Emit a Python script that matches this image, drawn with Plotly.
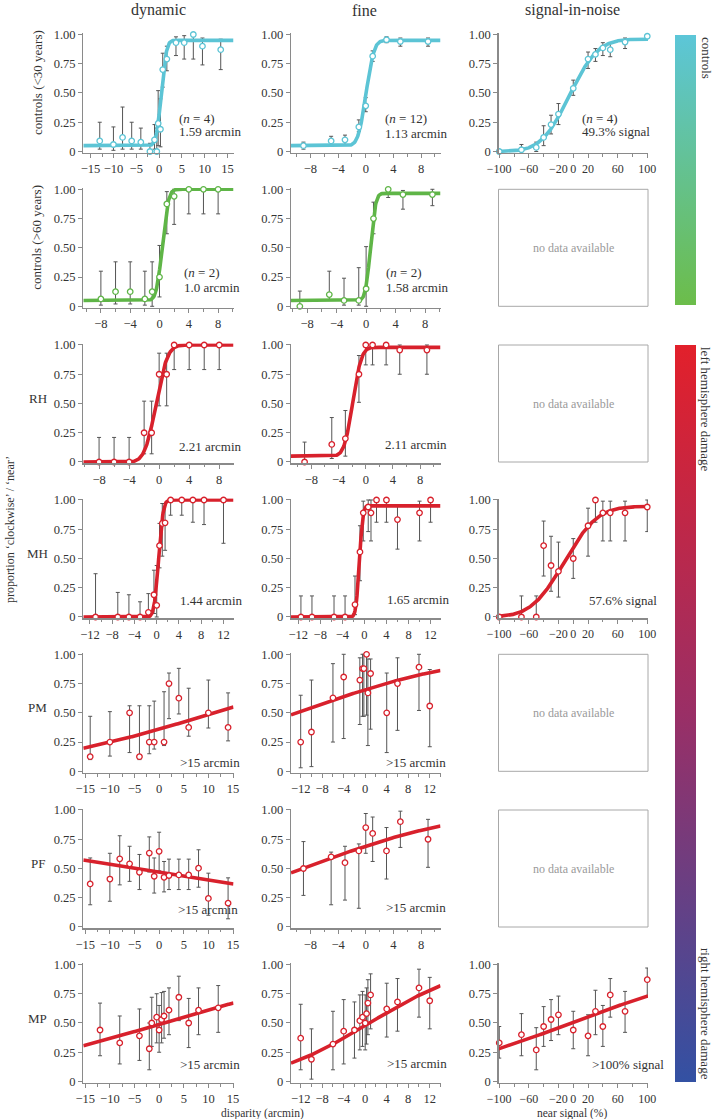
import math
import numpy as np
import plotly.graph_objects as go

W, H = 718, 1119

# ---------------- data ----------------
# each panel: x, y (proportion), lower / upper error limits, fit = (guess, lapse, mu, sigma)
c30_dyn_x = [-13, -10, -8, -6, -4, -2, -1, -0.5, -0.2, 0.3, 0.8, 1.7, 3.7, 5.5, 7.5, 9.5, 13.5]
c30_dyn_y = [0.09, 0.06, 0.12, 0.09, 0.08, 0.0, 0.10, 0.0, 0.24, 0.19, 0.70, 0.79, 0.93, 0.93, 1.0, 0.90, 0.87]
c30_dyn_lo = [0.02, 0.01, 0.02, 0.02, 0.02, 0.0, 0.02, 0.0, 0.05, 0.04, 0.55, 0.69, 0.82, 0.79, 0.79, 0.74, 0.70]
c30_dyn_hi = [0.25, 0.21, 0.38, 0.25, 0.20, 0.07, 0.23, 0.20, 0.52, 0.45, 0.84, 0.90, 0.98, 0.99, 1.0, 0.97, 0.96]
c30_dyn_fit = (0.05, 0.05, 0.5, 0.9)

c30_fine_x = [-9, -5, -3, -1, 0, 1, 3, 5, 9]
c30_fine_y = [0.05, 0.09, 0.10, 0.21, 0.39, 0.815, 0.955, 0.94, 0.94]
c30_fine_lo = [0.02, 0.06, 0.06, 0.17, 0.34, 0.77, 0.93, 0.90, 0.90]
c30_fine_hi = [0.08, 0.13, 0.14, 0.27, 0.46, 0.86, 0.98, 0.97, 0.97]
c30_fine_fit = (0.05, 0.05, 0.05, 0.9)

c30_sin_x = [-100, -70, -50, -40, -30, -20, 0, 20, 30, 40, 50, 70, 100]
c30_sin_y = [0.0, 0.015, 0.035, 0.12, 0.23, 0.32, 0.54, 0.79, 0.83, 0.885, 0.87, 0.935, 0.985]
c30_sin_lo = [0.0, 0.0, 0.0, 0.05, 0.15, 0.23, 0.48, 0.71, 0.77, 0.82, 0.81, 0.88, 0.97]
c30_sin_hi = [0.0, 0.06, 0.08, 0.22, 0.31, 0.41, 0.61, 0.85, 0.88, 0.93, 0.93, 0.97, 1.0]
c30_sin_fit = (0.0, 0.04, -5, 30)

c60_dyn_x = [-8, -6, -4, -2, -1, 0, 1, 2, 4, 6, 8]
c60_dyn_y = [0.063, 0.125, 0.125, 0.063, 0.125, 0.25, 0.875, 0.94, 1.0, 1.0, 1.0]
c60_dyn_lo = [0.01, 0.02, 0.02, 0.01, 0.0, 0.08, 0.62, 0.70, 0.79, 0.79, 0.79]
c60_dyn_hi = [0.30, 0.38, 0.38, 0.30, 0.38, 0.52, 0.98, 1.0, 1.0, 1.0, 1.0]
c60_dyn_fit = (0.05, 0.0, 0.4, 0.65)

c60_fine_x = [-9, -5, -3, -1, 0, 1, 3, 5, 9]
c60_fine_y = [0.0, 0.10, 0.05, 0.05, 0.15, 0.75, 1.0, 0.955, 0.955]
c60_fine_lo = [0.0, 0.05, 0.01, 0.01, 0.0, 0.62, 0.93, 0.83, 0.86]
c60_fine_hi = [0.13, 0.30, 0.24, 0.33, 0.51, 0.89, 1.0, 0.99, 1.0]
c60_fine_fit = (0.05, 0.035, 0.6, 0.55)

rh_dyn_x = [-8, -6, -4, -2, -1, 0, 1, 2, 4, 6, 8]
rh_dyn_y = [0, 0, 0, 0.25, 0.25, 0.75, 0.75, 1, 1, 1, 1]
rh_dyn_lo = [0, 0, 0, 0.07, 0.07, 0.48, 0.48, 0.79, 0.79, 0.79, 0.79]
rh_dyn_hi = [0.21, 0.21, 0.21, 0.52, 0.52, 0.93, 0.93, 1, 1, 1, 1]
rh_dyn_fit = (0.0, 0.0, -0.4, 1.2)

rh_fine_x = [-9, -5, -3, -1, 0, 1, 3, 5, 9]
rh_fine_y = [0.0, 0.15, 0.20, 0.75, 1.0, 1.0, 1.0, 0.957, 0.957]
rh_fine_lo = [0.0, 0.03, 0.05, 0.51, 0.83, 0.83, 0.83, 0.75, 0.75]
rh_fine_hi = [0.17, 0.38, 0.44, 0.91, 1.0, 1.0, 1.0, 1.0, 1.0]
rh_fine_fit = (0.05, 0.02, -1.9, 1.0)

mh_dyn_x = [-11, -7, -5, -3, -1.5, -0.5, 0, 0.5, 1, 1.5, 2.5, 4.5, 6.5, 8.5, 12]
mh_dyn_y = [0, 0, 0, 0, 0.04, 0.19, 0.10, 0.61, 0.80, 0.805, 1, 1, 1, 1, 1]
mh_dyn_lo = [0, 0, 0, 0, 0, 0.03, 0.0, 0.42, 0.52, 0.57, 0.87, 0.87, 0.81, 0.79, 0.63]
mh_dyn_hi = [0.37, 0.21, 0.19, 0.13, 0.20, 0.40, 0.44, 0.80, 0.97, 0.97, 1, 1, 1, 1, 1]
mh_dyn_fit = (0.0, 0.0, 0.35, 0.65)

mh_fine_x = [-11.5, -9.5, -5.5, -3.5, -1.7, -0.8, -0.2, 0.7, 1.2, 2.2, 4, 6, 10, 12]
mh_fine_y = [0, 0, 0, 0, 0.106, 0.556, 0.89, 0.94, 0.89, 1, 1, 0.833, 0.89, 1]
mh_fine_lo = [0, 0, 0, 0, 0.02, 0.31, 0.65, 0.73, 0.65, 0.81, 0.81, 0.58, 0.65, 0.81]
mh_fine_hi = [0.18, 0.18, 0.18, 0.18, 0.35, 0.78, 0.99, 1.0, 1.0, 1, 1, 0.96, 0.99, 1]
mh_fine_fit = (0.0, 0.05, -0.9, 0.5)

mh_sin_x = [-100, -70, -50, -40, -30, -20, 0, 20, 30, 40, 50, 70, 100]
mh_sin_y = [0, 0, 0, 0.61, 0.44, 0.39, 0.50, 0.78, 1.0, 0.89, 0.89, 0.89, 0.94]
mh_sin_lo = [0, 0, 0, 0.35, 0.22, 0.17, 0.33, 0.52, 0.81, 0.65, 0.65, 0.65, 0.73]
mh_sin_hi = [0, 0.18, 0.18, 0.82, 0.69, 0.64, 0.67, 0.93, 1.0, 0.99, 0.99, 0.99, 1.0]
mh_sin_fit = (0.0, 0.055, -12, 35)

pm_dyn_x = [-14, -10, -6, -4, -2, -1, 1, 2, 4, 6, 10, 14]
pm_dyn_y = [0.125, 0.25, 0.5, 0.125, 0.25, 0.25, 0.25, 0.75, 0.625, 0.375, 0.5, 0.375]
pm_dyn_lo = [0.10, 0.13, 0.16, 0.10, 0.15, 0.19, 0.22, 0.45, 0.49, 0.30, 0.37, 0.26]
pm_dyn_hi = [0.47, 0.51, 0.56, 0.56, 0.56, 0.60, 0.68, 0.84, 0.88, 0.71, 0.78, 0.67]
pm_dyn_fit = (0.0, 0.0, 11.2, 31.2)

pm_fine_x = [-12, -10, -6, -4, -1, -0.5, -0.25, 0.25, 0.5, 1, 4, 6, 10, 12]
pm_fine_y = [0.25, 0.336, 0.628, 0.806, 0.78, 0.878, 0.878, 1.0, 0.67, 0.836, 0.5, 0.75, 0.89, 0.558]
pm_fine_lo = [0.03, 0.04, 0.25, 0.28, 0.40, 0.47, 0.47, 0.48, 0.22, 0.36, 0.16, 0.35, 0.52, 0.21]
pm_fine_hi = [0.65, 0.78, 0.92, 1.0, 0.97, 1.0, 1.0, 1.0, 0.96, 0.96, 0.84, 0.97, 1.0, 0.87]
pm_fine_fit = (0.0, 0.0, -12.7, 24.5)

pf_dyn_x = [-14, -10, -8, -6, -4, -2, -1, 0, 1, 2, 4, 6, 8, 10, 14]
pf_dyn_y = [0.368, 0.41, 0.583, 0.54, 0.468, 0.632, 0.434, 0.647, 0.425, 0.44, 0.445, 0.445, 0.503, 0.244, 0.204]
pf_dyn_lo = [0.19, 0.22, 0.36, 0.39, 0.32, 0.47, 0.29, 0.48, 0.30, 0.32, 0.32, 0.32, 0.34, 0.10, 0.07]
pf_dyn_hi = [0.59, 0.63, 0.78, 0.69, 0.62, 0.77, 0.59, 0.81, 0.56, 0.58, 0.58, 0.58, 0.66, 0.46, 0.42]
pf_dyn_fit = (0.0, 0.0, -4.74, -58.6)

pf_fine_x = [-9, -5, -3, -1, 0, 1, 3, 5, 9]
pf_fine_y = [0.50, 0.60, 0.55, 0.65, 0.85, 0.80, 0.65, 0.90, 0.75]
pf_fine_lo = [0.27, 0.19, 0.23, 0.16, 0.63, 0.56, 0.41, 0.68, 0.51]
pf_fine_hi = [0.73, 0.64, 0.69, 0.71, 0.97, 0.94, 0.85, 0.99, 0.92]
pf_fine_fit = (0.0, 0.0, -9.1, 18.2)

mp_dyn_x = [-12, -8, -4, -2, -1.5, -0.5, 0, 0.5, 1, 2, 4, 6, 8, 12]
mp_dyn_y = [0.44, 0.33, 0.39, 0.28, 0.50, 0.55, 0.44, 0.53, 0.56, 0.61, 0.72, 0.50, 0.61, 0.63]
mp_dyn_lo = [0.22, 0.15, 0.18, 0.10, 0.30, 0.33, 0.25, 0.33, 0.37, 0.40, 0.52, 0.29, 0.40, 0.42]
mp_dyn_hi = [0.67, 0.56, 0.62, 0.50, 0.72, 0.75, 0.65, 0.76, 0.77, 0.80, 0.90, 0.71, 0.80, 0.82]
mp_dyn_fit = (0.0, 0.0, 0.9, 32)

mp_fine_x = [-12, -10, -6, -4, -2, -1, -0.5, 0, 0.25, 0.5, 1, 4, 6, 10, 12]
mp_fine_y = [0.37, 0.19, 0.32, 0.43, 0.44, 0.52, 0.55, 0.50, 0.58, 0.67, 0.74, 0.62, 0.68, 0.80, 0.69]
mp_fine_lo = [0.10, 0.02, 0.10, 0.15, 0.20, 0.27, 0.30, 0.27, 0.32, 0.40, 0.45, 0.38, 0.43, 0.55, 0.45]
mp_fine_hi = [0.66, 0.45, 0.60, 0.70, 0.68, 0.74, 0.77, 0.74, 0.80, 0.87, 0.92, 0.84, 0.88, 0.96, 0.89]
mp_fine_fit = (0.0, 0.0, 0.8, 14.5)

mp_sin_x = [-100, -70, -50, -40, -30, -20, 0, 20, 30, 40, 50, 70, 100]
mp_sin_y = [0.33, 0.40, 0.27, 0.47, 0.53, 0.57, 0.44, 0.39, 0.60, 0.47, 0.74, 0.60, 0.87]
mp_sin_lo = [0.20, 0.22, 0.10, 0.30, 0.35, 0.40, 0.28, 0.22, 0.40, 0.30, 0.55, 0.42, 0.72]
mp_sin_hi = [0.47, 0.58, 0.46, 0.64, 0.70, 0.73, 0.60, 0.57, 0.78, 0.65, 0.88, 0.77, 0.97]
mp_sin_fit = (0.0, 0.0, -2.5, 168)

col_titles = ["dynamic", "fine", "signal-in-noise"]
row_labels = ["controls (<30 years)", "controls (>60 years)", "RH", "MH", "PM", "PF", "MP"]
y_ticks = [0, 0.25, 0.5, 0.75, 1.0]
y_ticktext = ["0", "0.25", "0.50", "0.75", "1.00"]
ticks_15 = [-15, -10, -5, 0, 5, 10, 15]
ticks_8 = [-8, -4, 0, 4, 8]
ticks_12 = [-12, -8, -4, 0, 4, 8, 12]
ticks_sig = [-100, -60, -20, 0, 20, 60, 100]

# ---------------- styling ----------------
CYAN = "#5cc4d5"
GREEN = "#5fb547"
RED = "#d8212c"
FONT = "Liberation Serif, Times New Roman, DejaVu Serif, serif"
AXC = "#8a8a8a"
TXT = "#333333"
TICKSIZE = 12.5

col_px = [(83.3, 233.5), (291.0, 440.5), (498.5, 648.0)]
row_top = [34.5, 189.3, 345.0, 500.0, 654.3, 810.0, 964.5]
ROW_H = 117.0
YPAD = 0.012

def phi(z):
    return 0.5 * (1.0 + math.erf(z / math.sqrt(2.0)))

def fit_curve(xs, p):
    g, l, mu, s = p
    return [g + (1 - g - l) * phi((x - mu) / s) for x in xs]

def tt(v):
    return ("\u2212" + str(abs(v))) if v < 0 else str(v)

# (row, col, x, y, lo, hi, fit, color, xrange, ticks, minor dtick)
panels = [
    (0, 0, c30_dyn_x, c30_dyn_y, c30_dyn_lo, c30_dyn_hi, c30_dyn_fit, CYAN, [-16.6, 16.3], ticks_15, 2.5),
    (0, 1, c30_fine_x, c30_fine_y, c30_fine_lo, c30_fine_hi, c30_fine_fit, CYAN, [-10.8, 10.8], ticks_8, 2),
    (0, 2, c30_sin_x, c30_sin_y, c30_sin_lo, c30_sin_hi, c30_sin_fit, CYAN, [-101, 101], ticks_sig, 20),
    (1, 0, c60_dyn_x, c60_dyn_y, c60_dyn_lo, c60_dyn_hi, c60_dyn_fit, GREEN, [-10.4, 10.1], ticks_8, 2),
    (1, 1, c60_fine_x, c60_fine_y, c60_fine_lo, c60_fine_hi, c60_fine_fit, GREEN, [-10.2, 10.1], ticks_8, 2),
    (2, 0, rh_dyn_x, rh_dyn_y, rh_dyn_lo, rh_dyn_hi, rh_dyn_fit, RED, [-10.1, 9.9], ticks_8, 2),
    (2, 1, rh_fine_x, rh_fine_y, rh_fine_lo, rh_fine_hi, rh_fine_fit, RED, [-11.0, 11.0], ticks_8, 2),
    (3, 0, mh_dyn_x, mh_dyn_y, mh_dyn_lo, mh_dyn_hi, mh_dyn_fit, RED, [-13.2, 13.8], ticks_12, 2),
    (3, 1, mh_fine_x, mh_fine_y, mh_fine_lo, mh_fine_hi, mh_fine_fit, RED, [-13.3, 13.8], ticks_12, 2),
    (3, 2, mh_sin_x, mh_sin_y, mh_sin_lo, mh_sin_hi, mh_sin_fit, RED, [-101, 101], ticks_sig, 20),
    (4, 0, pm_dyn_x, pm_dyn_y, pm_dyn_lo, pm_dyn_hi, pm_dyn_fit, RED, [-15.4, 15.1], ticks_15, 2.5),
    (4, 1, pm_fine_x, pm_fine_y, pm_fine_lo, pm_fine_hi, pm_fine_fit, RED, [-13.8, 14.0], ticks_12, 2),
    (5, 0, pf_dyn_x, pf_dyn_y, pf_dyn_lo, pf_dyn_hi, pf_dyn_fit, RED, [-15.4, 15.1], ticks_15, 2.5),
    (5, 1, pf_fine_x, pf_fine_y, pf_fine_lo, pf_fine_hi, pf_fine_fit, RED, [-10.8, 10.8], ticks_8, 2),
    (6, 0, mp_dyn_x, mp_dyn_y, mp_dyn_lo, mp_dyn_hi, mp_dyn_fit, RED, [-15.4, 15.1], ticks_15, 2.5),
    (6, 1, mp_fine_x, mp_fine_y, mp_fine_lo, mp_fine_hi, mp_fine_fit, RED, [-13.8, 14.0], ticks_12, 2),
    (6, 2, mp_sin_x, mp_sin_y, mp_sin_lo, mp_sin_hi, mp_sin_fit, RED, [-101, 101], ticks_sig, 20),
]

# annotation text in panels: (x px, y px, text)
panel_text = [
    (177, 118, "(<i>n</i> = 4)"), (177, 132, "1.59 arcmin"),
    (383, 118, "(<i>n</i> = 12)"), (383, 133, "1.13 arcmin"),
    (580, 118, "(<i>n</i> = 4)"), (580, 131, "49.3% signal"),
    (182, 273, "(<i>n</i> = 2)"), (182, 287, "1.0 arcmin"),
    (384, 273, "(<i>n</i> = 2)"), (384, 287, "1.58 arcmin"),
    (177, 446, "2.21 arcmin"), (383, 445, "2.11 arcmin"),
    (178, 600, "1.44 arcmin"), (385, 599, "1.65 arcmin"), (587, 600, "57.6% signal"),
    (178, 762, ">15 arcmin"), (384, 762, ">15 arcmin"),
    (176, 909, ">15 arcmin"), (384, 908, ">15 arcmin"),
    (178, 1064, ">15 arcmin"), (385, 1063, ">15 arcmin"), (590, 1064, ">100% signal"),
]
no_data_rows = [1, 2, 4, 5]

fig = go.Figure()
layout = dict(
    template="none",
    width=W, height=H, margin=dict(l=0, r=0, t=0, b=0, autoexpand=False),
    paper_bgcolor="white", plot_bgcolor="white", showlegend=False,
    font=dict(family=FONT, size=13, color=TXT),
)
annotations = []
shapes = []

def px2x(p):
    return p / W

def px2y(p):
    return 1 - p / H

for i, (r, c, xs, ys, lo, hi, fit, color, xr, xt, mdt) in enumerate(panels):
    k = i + 1
    xa = "x" if k == 1 else f"x{k}"
    ya = "y" if k == 1 else f"y{k}"
    xkey = "xaxis" if k == 1 else f"xaxis{k}"
    ykey = "yaxis" if k == 1 else f"yaxis{k}"
    x0, x1 = col_px[c]
    T = row_top[r]
    B = T + ROW_H
    pad = YPAD * ROW_H
    xsize = 12 if c == 2 else TICKSIZE
    layout[xkey] = dict(
        domain=[px2x(x0), px2x(x1)], range=xr, anchor=ya, automargin=False,
        showline=True, linecolor=AXC, linewidth=1.3, mirror=False,
        ticks="outside", ticklen=4, tickcolor=AXC, tickwidth=1, tickangle=0,
        tickmode="array", tickvals=xt, ticktext=[tt(v) for v in xt],
        tickfont=dict(family=FONT, size=xsize, color=TXT),
        showgrid=False, zeroline=False, fixedrange=True,
        minor=dict(ticks="outside", ticklen=2.5, tickcolor=AXC, tick0=0, dtick=mdt, showgrid=False),
    )
    layout[ykey] = dict(
        domain=[px2y(B + pad), px2y(T - pad)], range=[-YPAD, 1 + YPAD], anchor=xa, automargin=False,
        showline=True, linecolor=AXC, linewidth=1.3,
        ticks="outside", ticklen=4, tickcolor=AXC, tickwidth=1,
        tickmode="array", tickvals=y_ticks, ticktext=y_ticktext,
        tickfont=dict(family=FONT, size=TICKSIZE, color=TXT),
        showgrid=False, zeroline=False, fixedrange=True,
    )
    up = [max(h - y, 0) for y, h in zip(ys, hi)]
    dn = [max(y - l, 0) for y, l in zip(ys, lo)]
    fig.add_trace(go.Scatter(
        x=xs, y=ys, xaxis=xa, yaxis=ya, mode="markers",
        marker=dict(size=1, color="rgba(0,0,0,0)"),
        error_y=dict(type="data", symmetric=False, array=up, arrayminus=dn,
                     color="#555555", thickness=1, width=2),
        cliponaxis=False, hoverinfo="skip"))
    cx = np.linspace(xr[0], xr[1], 300)
    fig.add_trace(go.Scatter(
        x=cx, y=fit_curve(cx, fit), xaxis=xa, yaxis=ya, mode="lines",
        line=dict(color=color, width=3.6), hoverinfo="skip"))
    fig.add_trace(go.Scatter(
        x=xs, y=ys, xaxis=xa, yaxis=ya, mode="markers",
        marker=dict(symbol="circle", size=5.5, color="white", line=dict(color=color, width=1.3)),
        cliponaxis=False, hoverinfo="skip"))

def ann(text, x, y, size=13, color=TXT, xanchor="center", yanchor="middle", angle=0):
    annotations.append(dict(text=text, x=px2x(x), y=px2y(y), xref="paper", yref="paper",
                            xanchor=xanchor, yanchor=yanchor, showarrow=False, textangle=angle,
                            font=dict(family=FONT, size=size, color=color)))

# no-data boxes
for r in no_data_rows:
    x0, x1 = col_px[2]
    T = row_top[r]
    B = T + ROW_H
    shapes.append(dict(type="rect", xref="paper", yref="paper",
                       x0=px2x(x0), x1=px2x(x1), y0=px2y(B), y1=px2y(T),
                       line=dict(color="#a8a8a8", width=1), fillcolor="rgba(0,0,0,0)"))
    ann("no data available", (x0 + x1) / 2, (T + B) / 2, size=12, color="#9a9a9a")

# panel texts
for (x, y, t) in panel_text:
    ann(t, x, y, xanchor="left")

# column titles
for (cx, t) in zip([158, 364, 572], col_titles):
    ann(t, cx, 10, size=16)

# row labels
for r, lab in enumerate(row_labels):
    if r < 2:
        ann(lab, 37, row_top[r] + ROW_H / 2 - 10, angle=-90)
    else:
        ann(lab, 37.5, row_top[r] + ROW_H / 2 - 5)

ann("proportion \u2018clockwise\u2019 / \u2018near\u2019", 10, 530, size=12, angle=-90)
ann("disparity (arcmin)", 262, 1113, size=11.5)
ann("near signal (%)", 572, 1113, size=11.5)

# colour bar labels
ann("controls", 706, 35, yanchor="top", angle=90)
ann("left hemisphere damage", 706, 345, yanchor="top", angle=90)
ann("right hemisphere damage", 706, 1082, yanchor="bottom", angle=90)

def cbar(top, bottom, scale):
    return go.Scatter(
        x=[None], y=[None], mode="markers", xaxis="x", yaxis="y", hoverinfo="skip",
        marker=dict(color=[0.5], cmin=0, cmax=1, colorscale=scale, showscale=True,
                    colorbar=dict(x=px2x(675), xanchor="left", y=px2y(top), yanchor="top",
                                  len=(bottom - top) / H, lenmode="fraction",
                                  thickness=21, thicknessmode="pixels",
                                  outlinewidth=0, showticklabels=False, ticks="",
                                  xpad=0, ypad=0)))

fig.add_trace(cbar(35, 305, [[0, "#6cbd4a"], [1, "#5cc6d8"]]))
fig.add_trace(cbar(345, 1082, [[0, "#3351a3"], [0.5, "#9a2f66"], [1, "#e2202b"]]))

layout["annotations"] = annotations
layout["shapes"] = shapes
fig.update_layout(**layout)
fig.write_html("out.html",
               config={"displayModeBar": False, "staticPlot": True},
               post_script="document.body.style.margin='0';document.body.style.padding='0';"
                           "document.body.style.overflow='hidden';")
